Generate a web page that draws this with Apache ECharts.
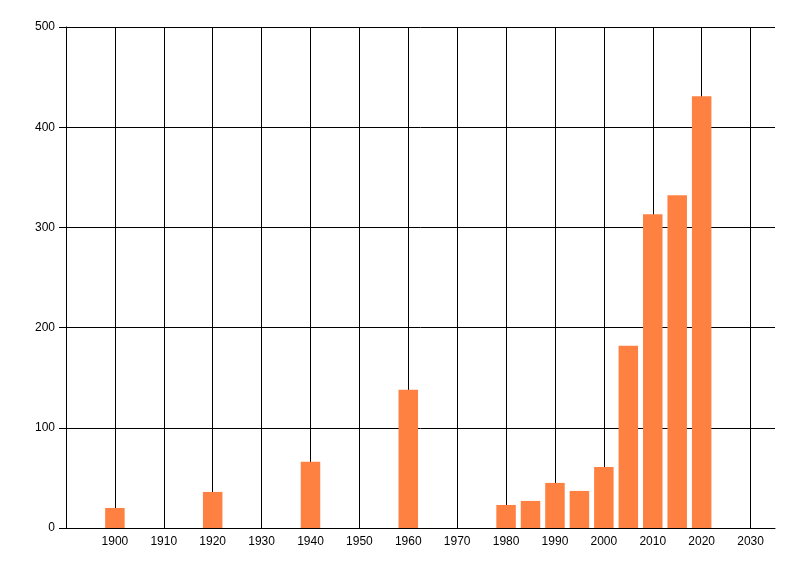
<!DOCTYPE html>
<html>
<head>
<meta charset="utf-8">
<script src="https://cdn.jsdelivr.net/npm/echarts@6/dist/echarts.min.js"></script>
<style>html,body{margin:0;padding:0;background:#fff}#c{width:800px;height:576px}</style>
</head>
<body>
<div id="c"></div>
<script>
var years = [1900, 1920, 1940, 1960, 1980, 1985, 1990, 1995, 2000, 2005, 2010, 2015, 2020];
var values = [20, 36, 66, 138, 23, 27, 45, 37, 61, 182, 313, 332, 431];
var xTickLabels = ['1900','1910','1920','1930','1940','1950','1960','1970','1980','1990','2000','2010','2020','2030'];
var yTickLabels = ['0','100','200','300','400','500'];

var chart = echarts.init(document.getElementById('c'), null, {renderer: 'canvas'});
var font = 'Liberation Sans';
chart.setOption({
  animation: false,
  backgroundColor: '#ffffff',
  grid: {left: 66, right: 25, top: 27, bottom: 48, containLabel: false},
  xAxis: {
    type: 'value', min: 1890, max: 2035, interval: 10,
    axisLine: {show: true, lineStyle: {color: '#000', width: 1}},
    axisTick: {show: false},
    splitLine: {show: true, showMinLine: false, showMaxLine: false, lineStyle: {color: '#000', width: 1}},
    axisLabel: {
      color: '#000', fontFamily: font, fontSize: 12, margin: 8,
      showMinLabel: false, showMaxLabel: false,
      formatter: function (v) { var s = String(v); return xTickLabels.indexOf(s) >= 0 ? s : ''; }
    }
  },
  yAxis: {
    type: 'value', min: 0, max: 500, interval: 100,
    axisLine: {show: true, lineStyle: {color: '#000', width: 1}},
    axisTick: {show: true, length: 7, lineStyle: {color: '#000', width: 1}},
    splitLine: {show: true, lineStyle: {color: '#000', width: 1}},
    axisLabel: {
      color: '#000', fontFamily: font, fontSize: 12, margin: 11,
      formatter: function (v) { var s = String(v); return yTickLabels.indexOf(s) >= 0 ? s : ''; }
    }
  },
  series: [{
    type: 'bar',
    data: years.map(function (y, i) { return [y, values[i]]; }),
    barWidth: 19.5,
    itemStyle: {color: '#ff8142'},
    z: 3
  }]
});
</script>
</body>
</html>
